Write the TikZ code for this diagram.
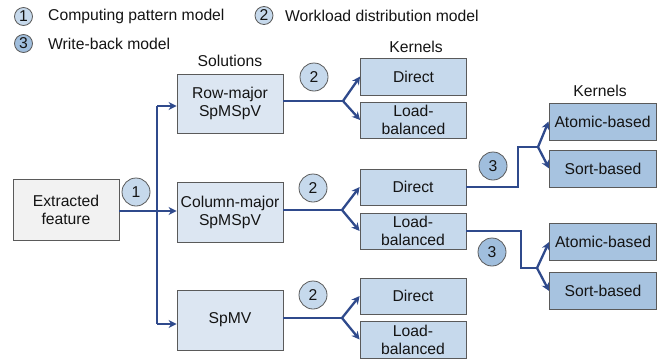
\documentclass[tikz,border=0pt]{standalone}
\usepackage{fontspec}
\setmainfont{Liberation Sans}
\usetikzlibrary{arrows.meta,calc}
\definecolor{linec}{HTML}{2F4A8C}
\definecolor{bordc}{HTML}{5A5A5A}
\definecolor{solfill}{HTML}{DCE6F2}
\definecolor{kfill}{HTML}{C6D9EC}
\definecolor{kdfill}{HTML}{A7C3E0}
\definecolor{featfill}{HTML}{F2F2F2}
\definecolor{cfill}{HTML}{C6D9EC}
\definecolor{cdfill}{HTML}{A0BEDD}
\definecolor{txt}{HTML}{141414}
\begin{document}
\begin{tikzpicture}[x=1pt,y=-1pt,
  font=\fontsize{15.7}{18}\selectfont, text=txt,
  box/.style={draw=bordc, line width=0.8pt, align=center, inner sep=0pt,
    minimum width=106pt, minimum height=36pt},
  solbox/.style={box, fill=solfill, minimum height=60pt},
  kbox/.style={box, fill=kfill},
  kdbox/.style={box, fill=kdfill, minimum width=107pt, minimum height=37pt},
  featbox/.style={box, fill=featfill, minimum height=61pt},
  numc/.style={circle, draw=bordc, line width=0.8pt, fill=cfill, inner sep=0pt, minimum size=28pt},
  numcd/.style={numc, fill=cdfill},
  legc/.style={circle, draw=bordc, line width=0.8pt, fill=cfill, inner sep=0pt, minimum size=18pt},
  legcd/.style={legc, fill=cdfill},
  conn/.style={draw=linec, line width=2.3pt},
  arr/.style={conn, -{Stealth[length=8pt,width=8pt,inset=2.5pt]}},
  lbl/.style={inner sep=0pt}
]
\useasboundingbox (0,0) rectangle (672,362);

% legend
\node[legc] (lg1) at (23.5,16.5) {1};
\node[lbl, anchor=west] (lt1) at (48,16.5) {Computing pattern model};
\node[legc] (lg2) at (264,15.5) {2};
\node[lbl, anchor=west] (lt2) at (285,15.5) {Workload distribution model};
\node[legcd] (lg3) at (23.5,43.5) {3};
\node[lbl, anchor=west] (lt3) at (48,43.5) {Write-back model};

% headers
\node[lbl] (hsol) at (230,61) {Solutions};
\node[lbl] (hk1) at (416,47) {Kernels};
\node[lbl] (hk2) at (600,91) {Kernels};

% main boxes
\node[featbox] (feat) at (66,209.5) {Extracted\\feature};
\node[solbox, minimum height=59pt] (row) at (230,103.5) {Row-major\\SpMSpV};
\node[solbox] (col) at (230,212) {Column-major\\SpMSpV};
\node[solbox] (spmv) at (230,320) {SpMV};

\node[kbox, minimum height=37pt] (d1) at (413.5,76.5) {Direct};
\node[kbox] (l1) at (413.5,120) {Load-\\balanced};
\node[kbox] (d2) at (413,187) {Direct};
\node[kbox] (l2) at (413,231) {Load-\\balanced};
\node[kbox] (d3) at (413,296) {Direct};
\node[kbox, minimum height=37pt] (l3) at (413,339.5) {Load-\\balanced};

\node[kdbox] (a1) at (602.5,121.5) {Atomic-based};
\node[kdbox] (s1) at (603,168.5) {Sort-based};
\node[kdbox] (a2) at (603,242) {Atomic-based};
\node[kdbox] (s2) at (603,291) {Sort-based};

% number circles
\node[numc] (c1) at (136,192) {1};
\node[numc] (c2a) at (314,77) {2};
\node[numc] (c2b) at (313,188) {2};
\node[numc] (c2c) at (313,295) {2};
\node[numcd] (c3a) at (493,166) {3};
\node[numcd] (c3b) at (492,252) {3};

% trunk
\coordinate (tj) at (157,211);
\coordinate (ttop) at (157,106);
\coordinate (tbot) at (157,324);
\draw[conn] (feat.east |- tj) -- (tj);
\draw[conn] (ttop) -- (tbot);
\draw[arr] (ttop) -- (row.west |- ttop);
\draw[arr] (tj) -- (col.west |- tj);
\draw[arr] (tbot) -- (spmv.west |- tbot);

% solution -> kernels
\coordinate (b1) at (343,101);
\coordinate (b2) at (342,210);
\coordinate (b3) at (342,318);
\draw[conn] (row.east |- b1) -- (b1);
\draw[arr] (b1) -- (d1.west);
\draw[arr] (b1) -- (l1.west);
\draw[conn] (col.east |- b2) -- (b2);
\draw[arr] (b2) -- (d2.west);
\draw[arr] (b2) -- (l2.west);
\draw[conn] (spmv.east |- b3) -- (b3);
\draw[arr] (b3) -- (d3.west);
\draw[arr] (b3) -- (l3.west);

% write-back
\coordinate (w1) at (538,147);
\draw[conn] (d2.east) -- (518,187) -- (518,147) -- (w1);
\draw[arr] (w1) -- (a1.west);
\draw[arr] (w1) -- (s1.west);
\coordinate (w2) at (537,268);
\draw[conn] (l2.east) -- (521,231) -- (521,268) -- (w2);
\draw[arr] (w2) -- (a2.west);
\draw[arr] (w2) -- (s2.west);
\end{tikzpicture}
\end{document}
